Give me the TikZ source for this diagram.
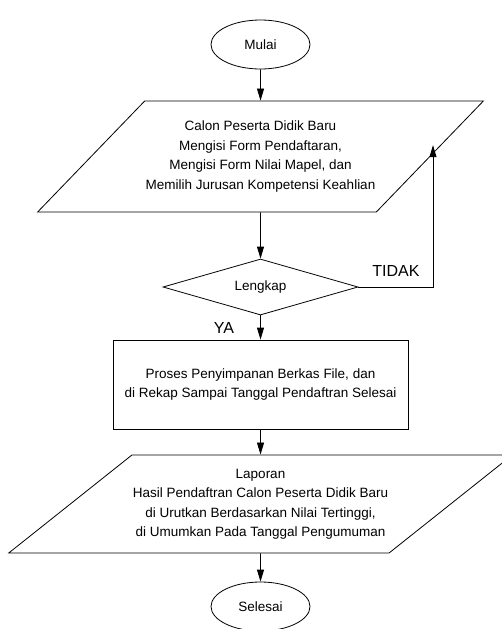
\documentclass[tikz,border=0pt]{standalone}
\usepackage{fontspec}
\setmainfont{Liberation Sans}
\usetikzlibrary{positioning, arrows.meta, shapes.geometric}

\tikzset{
  terminal/.style={draw, ellipse, minimum width=99pt, minimum height=49pt, inner sep=1pt},
  masukan/.style={draw, trapezium, trapezium stretches body, align=center, inner xsep=1pt},
  proses/.style={draw, rectangle, minimum width=295pt, minimum height=89pt, align=center},
  keputusan/.style={draw, diamond, shape aspect=3.5, minimum width=195pt, minimum height=56pt, inner sep=1pt},
  alur/.style={-{Triangle[length=12pt,width=7pt]}},
  jawab/.style={font=\fontsize{16}{18}\selectfont, inner sep=0pt}
}

\begin{document}
\begin{tikzpicture}[x=1pt, y=-1pt, line width=0.8pt, font=\fontsize{13.5}{19.5}\selectfont]
    \useasboundingbox (0,0) rectangle (501,629);

    \node[terminal] (mulai) at (260.5,44.5) {Mulai};
    \node[masukan, trapezium left angle=45.8, trapezium right angle=134.2, inner ysep=19.5pt,
          minimum width=431pt, minimum height=111pt] (isi) at (260.5,156.5) {
        Calon Peserta Didik Baru\\
        Mengisi Form Pendaftaran,\\
        Mengisi Form Nilai Mapel, dan\\
        Memilih Jurusan Kompetensi Keahlian};
    \node[keputusan] (lengkap) at (260.5,287) {Lengkap};
    \node[proses] (simpan) at (260.5,384.5) {
        Proses Penyimpanan Berkas File, dan\\
        di Rekap Sampai Tanggal Pendaftran Selesai};
    \node[masukan, trapezium left angle=38.1, trapezium right angle=141.9, inner ysep=13pt,
          minimum width=501pt, minimum height=98pt] (laporan) at (260.5,504) {
        Laporan\\
        Hasil Pendaftran Calon Peserta Didik Baru\\
        di Urutkan Berdasarkan Nilai Tertinggi,\\
        di Umumkan Pada Tanggal Pengumuman};
    \node[terminal] (selesai) at (260.5,606.5) {Selesai};

    \coordinate (belok) at (433,287);
    \coordinate (ujung) at (433,145.2);

    \draw[alur] (mulai.south) -- (isi.north);
    \draw[alur] (isi.south) -- (lengkap.north);
    \draw[alur] (lengkap.south) -- (simpan.north);
    \draw[alur] (simpan.south) -- (laporan.north);
    \draw[alur] (laporan.south) -- (selesai.north);
    \draw[alur] (lengkap.east) -- (belok) -- (ujung);

    \node[jawab] (tidak) at (396,271) {TIDAK};
    \node[jawab] (ya) at (224,328) {YA};
\end{tikzpicture}
\end{document}
